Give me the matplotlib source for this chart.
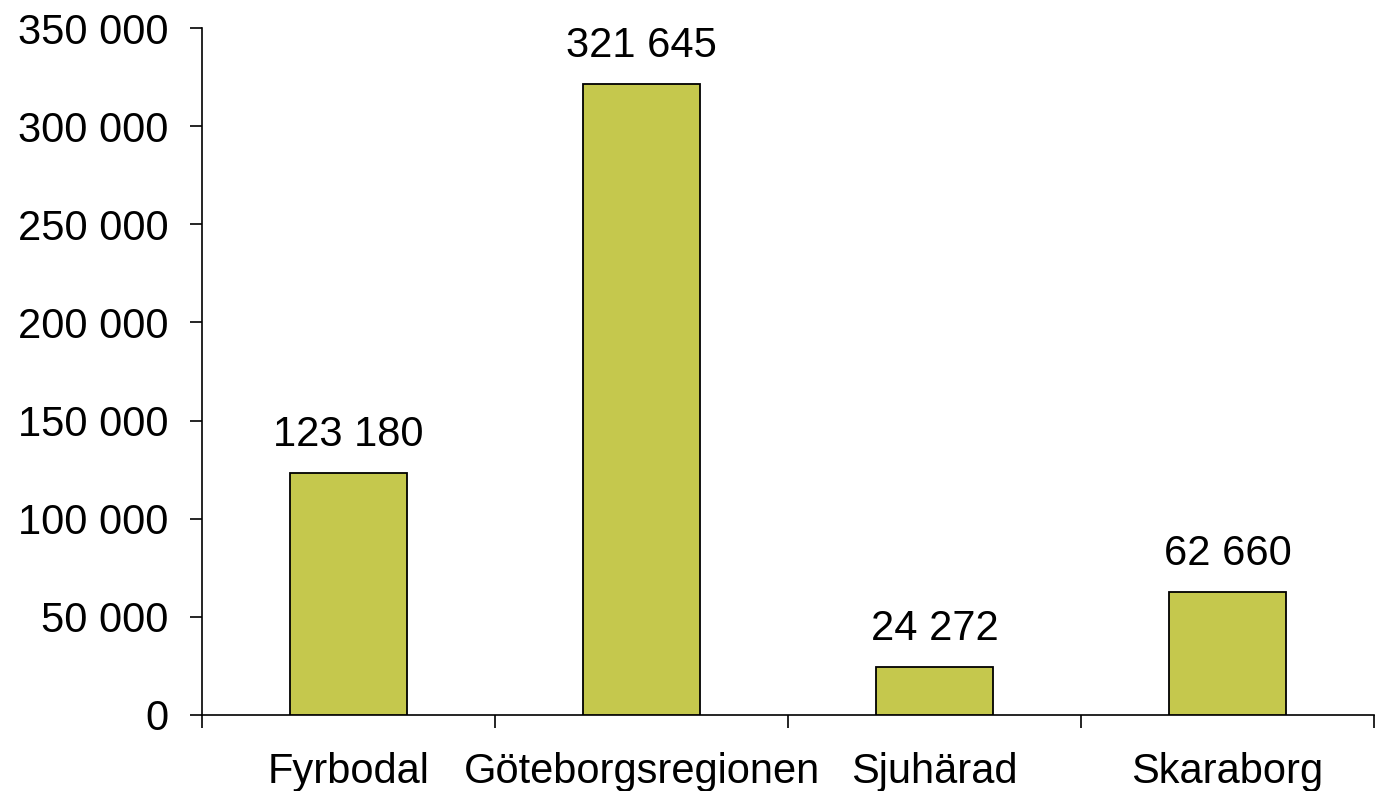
import matplotlib.pyplot as plt
import numpy as np

plt.rcParams['font.family'] = ['Liberation Sans', 'DejaVu Sans']

regions = ['Fyrbodal', 'Göteborgsregionen', 'Sjuhärad', 'Skaraborg']
values = [123180, 321645, 24272, 62660]
yticks = [0, 50000, 100000, 150000, 200000, 250000, 300000, 350000]

def fmt(v):
    return f'{v:,}'.replace(',', ' ')

fig = plt.figure(figsize=(13.79, 7.91), dpi=100)
ax = fig.add_axes([0.1465, 0.0961, 0.8499, 0.8685])

x = np.arange(len(regions))
ax.bar(x, values, width=0.4, color='#C5C84D', edgecolor='black', linewidth=1.3, zorder=3)

for xi, v in zip(x, values):
    ax.annotate(fmt(v), (xi, v), xytext=(0, 13), textcoords='offset points',
                ha='center', va='bottom', fontsize=30)

ax.set_xlim(-0.5, len(regions) - 0.5)
ax.set_ylim(0, 350000)
ax.set_yticks(yticks)
ax.set_yticklabels([fmt(t) for t in yticks], fontsize=30)
ax.set_xticks(x)
ax.set_xticklabels(regions, fontsize=30)
ax.set_xticks(np.arange(-0.5, len(regions)), minor=True)

ax.tick_params(axis='x', which='major', length=0, pad=27)
ax.tick_params(axis='x', which='minor', length=9, width=1.2, direction='out')
ax.tick_params(axis='y', length=9, width=1.2, direction='out', pad=15)

for s in ['top', 'right']:
    ax.spines[s].set_visible(False)
for s in ['left', 'bottom']:
    ax.spines[s].set_linewidth(1.2)

fig.savefig('out.png', dpi=100)
